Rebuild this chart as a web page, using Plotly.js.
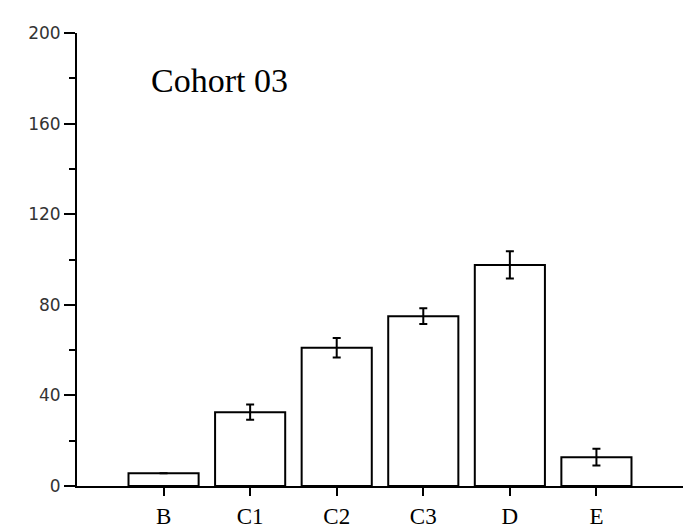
<!DOCTYPE html>
<html>
<head>
<meta charset="utf-8">
<script src="https://cdn.plot.ly/plotly-3.0.1.min.js"></script>
<style>html,body{margin:0;padding:0;background:#fff;}#chart{width:684px;height:528px;}</style>
</head>
<body>
<div id="chart"></div>
<script>
const categories = ["B", "C1", "C2", "C3", "D", "E"];
const values = [5.6, 32.6, 61.0, 75.0, 97.6, 12.7];
const errors = [0, 3.4, 4.3, 3.5, 6.0, 3.7];
const yTickVals = [0, 40, 80, 120, 160, 200];
const titleText = "Cohort 03";

const trace = {
  type: 'bar',
  x: categories,
  y: values,
  width: 0.81,
  marker: { color: '#ffffff', line: { color: '#000000', width: 2 } },
  error_y: { type: 'data', array: errors, visible: true, color: '#000000', thickness: 2, width: 4 },
  hoverinfo: 'none'
};

const layout = {
  width: 684, height: 528,
  margin: { l: 77, r: 1, t: 33, b: 42, pad: 0 },
  paper_bgcolor: '#ffffff', plot_bgcolor: '#ffffff',
  showlegend: false,
  xaxis: {
    type: 'category',
    range: [-1, 6],
    showline: true, linecolor: '#000000', linewidth: 2,
    ticks: 'outside', ticklen: 8, tickwidth: 2, tickcolor: '#000000',
    ticklabelstandoff: 0,
    showgrid: false, zeroline: false,
    tickfont: { family: 'Liberation Serif, serif', size: 23, color: '#000000' }
  },
  yaxis: {
    range: [0, 200],
    tickvals: yTickVals,
    showline: true, linecolor: '#000000', linewidth: 2,
    ticks: 'outside', ticklen: 11, tickwidth: 2, tickcolor: '#000000',
    minor: { dtick: 20, tick0: 0, ticks: 'outside', ticklen: 6, tickwidth: 2, tickcolor: '#000000', showgrid: false },
    showgrid: false, zeroline: false,
    tickfont: { family: 'DejaVu Sans, sans-serif', size: 17, color: '#333333' }
  },
  annotations: [{
    text: titleText, xref: 'paper', yref: 'paper', x: 0.118, y: 0.895,
    xanchor: 'left', yanchor: 'middle', showarrow: false,
    font: { family: 'Liberation Serif, serif', size: 34, color: '#000000' }
  }]
};

Plotly.newPlot('chart', [trace], layout, { staticPlot: true, displayModeBar: false });
</script>
</body>
</html>
